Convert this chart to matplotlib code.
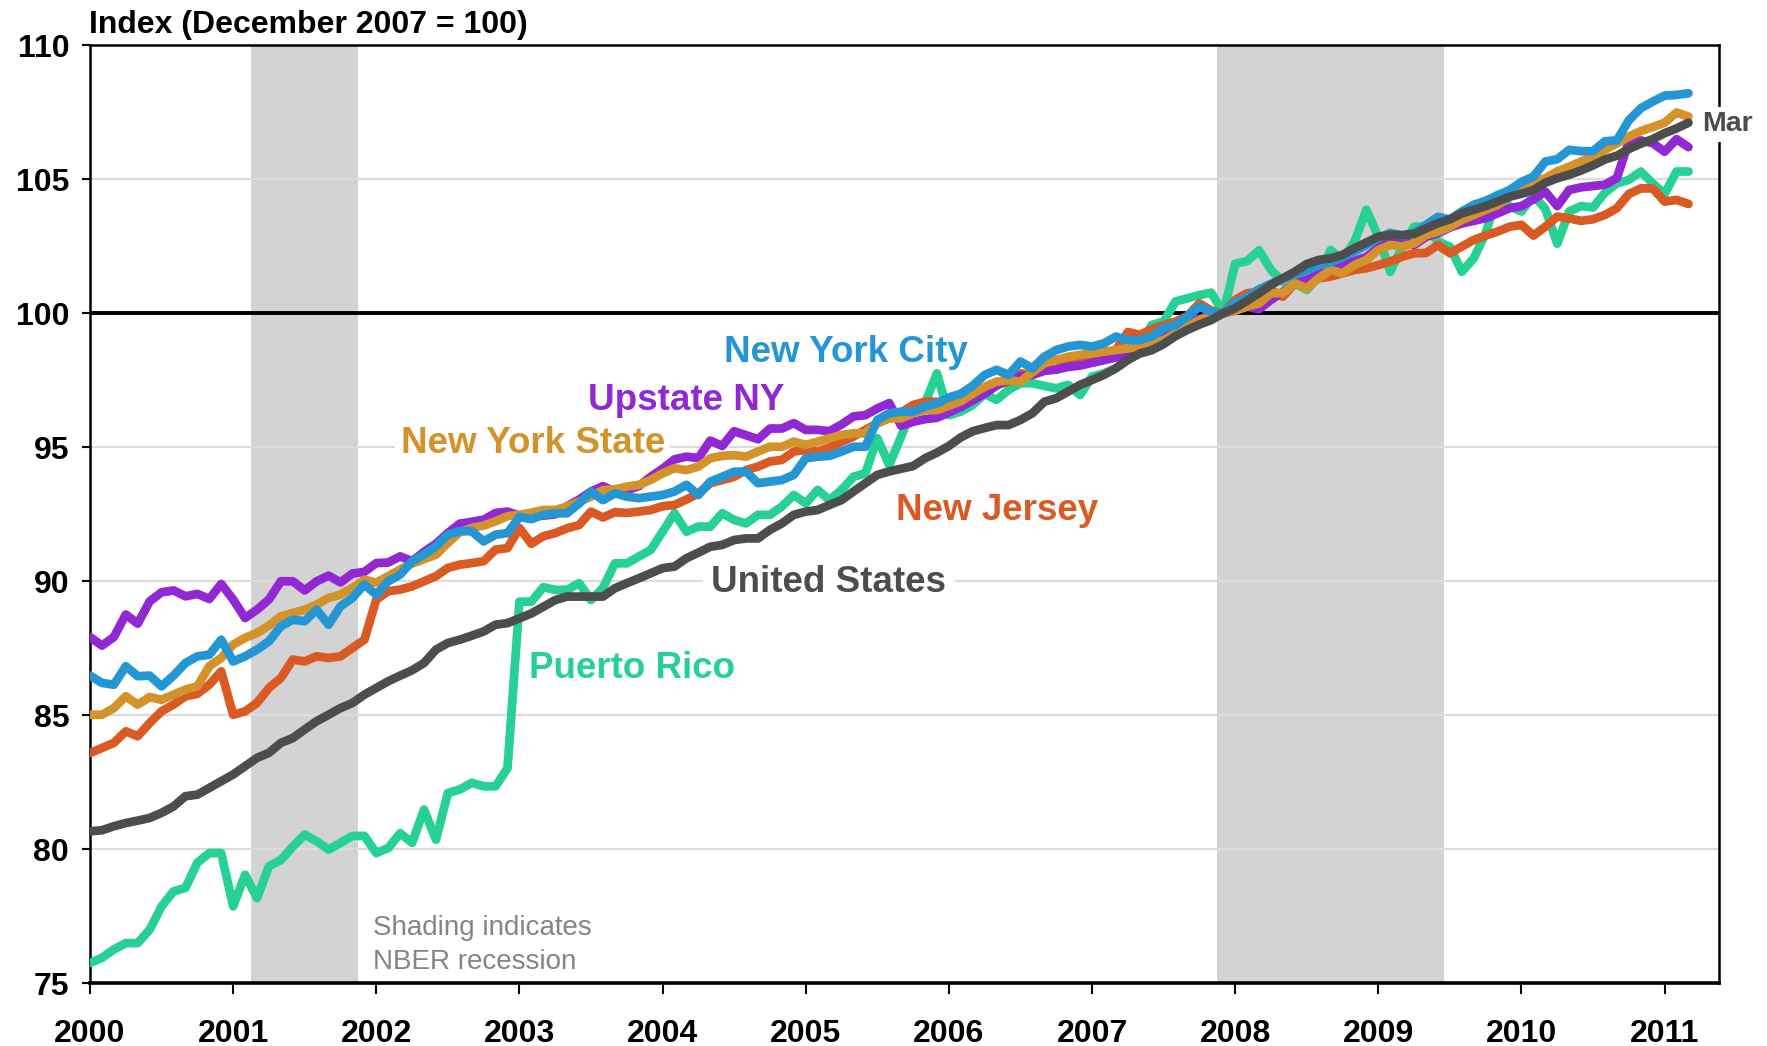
import numpy as np
import matplotlib
matplotlib.use("Agg")
import matplotlib.pyplot as plt
from matplotlib import font_manager

# ---------------- data (monthly, Jan 2000 .. Mar 2011) ----------------
start_year = 2000

united_states = [
    80.67, 80.71, 80.86, 80.98, 81.07, 81.17, 81.36, 81.60, 81.98, 82.04, 82.29, 82.54,
    82.79, 83.10, 83.41, 83.60, 83.97, 84.15, 84.47, 84.78, 85.02, 85.27, 85.46, 85.77,
    86.02, 86.27, 86.48, 86.68, 86.95, 87.45, 87.70, 87.82, 87.97, 88.13, 88.38, 88.44,
    88.62, 88.80, 89.05, 89.30, 89.43, 89.43, 89.43, 89.43, 89.74, 89.93, 90.11, 90.30,
    90.49, 90.55, 90.86, 91.07, 91.29, 91.36, 91.54, 91.60, 91.60, 91.92, 92.16, 92.48,
    92.60, 92.66, 92.85, 93.03, 93.35, 93.66, 93.97, 94.10, 94.20, 94.30, 94.59, 94.80,
    95.05, 95.37, 95.60, 95.72, 95.83, 95.83, 96.02, 96.27, 96.70, 96.83, 97.08, 97.33,
    97.51, 97.70, 97.95, 98.26, 98.50, 98.62, 98.85, 99.15, 99.38, 99.58, 99.75, 100.00,
    100.19, 100.47, 100.75, 101.06, 101.31, 101.55, 101.84, 101.99, 102.05, 102.18, 102.43, 102.64,
    102.86, 102.92, 102.92, 102.96, 103.17, 103.36, 103.51, 103.73, 103.86, 104.00, 104.17, 104.35,
    104.46, 104.60, 104.87, 105.04, 105.17, 105.33, 105.52, 105.74, 105.88, 106.13, 106.33, 106.50,
    106.72, 106.90, 107.11,
]

puerto_rico = [
    75.76, 75.95, 76.26, 76.50, 76.50, 77.00, 77.87, 78.43, 78.56, 79.50, 79.86, 79.86,
    77.87, 79.05, 78.18, 79.37, 79.60, 80.10, 80.55, 80.30, 79.99, 80.24, 80.50, 80.50,
    79.86, 80.05, 80.60, 80.24, 81.48, 80.36, 82.10, 82.23, 82.48, 82.35, 82.35, 83.03,
    89.24, 89.24, 89.78, 89.68, 89.68, 89.93, 89.30, 89.75, 90.67, 90.67, 90.92, 91.17,
    91.85, 92.54, 91.85, 92.04, 92.04, 92.54, 92.29, 92.16, 92.48, 92.48, 92.79, 93.22,
    92.91, 93.41, 93.03, 93.41, 93.90, 94.03, 95.34, 94.34, 95.40, 96.52, 96.64, 97.76,
    96.20, 96.33, 96.58, 96.99, 96.77, 97.14, 97.39, 97.39, 97.29, 97.20, 97.33, 96.95,
    97.64, 97.76, 97.95, 98.26, 98.76, 99.56, 99.69, 100.44, 100.56, 100.68, 100.77, 100.00,
    101.85, 101.95, 102.35, 101.62, 101.18, 101.12, 100.87, 101.37, 102.36, 101.99, 102.67, 103.86,
    102.86, 101.55, 102.49, 103.23, 103.23, 102.67, 102.49, 101.55, 102.05, 102.99, 104.42, 104.00,
    103.80, 104.40, 103.90, 102.60, 103.80, 104.00, 103.95, 104.50, 104.85, 104.98, 105.29, 104.85,
    104.45, 105.29, 105.29,
]

new_york_city = [
    86.48, 86.21, 86.14, 86.83, 86.46, 86.48, 86.08, 86.48, 86.95, 87.20, 87.26, 87.82,
    87.01, 87.20, 87.45, 87.76, 88.32, 88.57, 88.51, 88.94, 88.38, 89.07, 89.38, 89.88,
    89.50, 90.00, 90.25, 90.75, 91.00, 91.31, 91.74, 91.87, 91.87, 91.49, 91.74, 91.80,
    92.40, 92.32, 92.48, 92.54, 92.54, 92.90, 93.35, 93.03, 93.28, 93.16, 93.10, 93.16,
    93.22, 93.35, 93.60, 93.22, 93.72, 93.90, 94.09, 94.09, 93.66, 93.72, 93.78, 93.97,
    94.59, 94.65, 94.68, 94.84, 95.02, 95.02, 96.02, 96.27, 96.33, 96.33, 96.52, 96.64,
    96.86, 97.00, 97.30, 97.70, 97.89, 97.70, 98.20, 97.95, 98.38, 98.63, 98.76, 98.82,
    98.76, 98.88, 99.13, 99.00, 99.00, 99.13, 99.44, 99.56, 99.88, 100.25, 100.06, 100.00,
    100.40, 100.60, 100.90, 101.10, 101.30, 101.45, 101.60, 101.80, 101.90, 102.10, 102.30, 102.55,
    102.80, 103.00, 102.90, 103.00, 103.30, 103.60, 103.50, 103.80, 104.05, 104.20, 104.40, 104.60,
    104.90, 105.10, 105.66, 105.75, 106.10, 106.05, 106.05, 106.42, 106.45, 107.20, 107.65, 107.90,
    108.12, 108.15, 108.21,
]

new_york_state = [
    85.02, 85.02, 85.27, 85.71, 85.40, 85.68, 85.58, 85.77, 85.96, 86.08, 86.83, 87.14,
    87.64, 87.89, 88.07, 88.35, 88.69, 88.82, 88.94, 89.13, 89.38, 89.50, 89.75, 90.06,
    89.95, 90.19, 90.44, 90.66, 90.83, 90.99, 91.43, 91.83, 91.99, 92.08, 92.24, 92.43,
    92.48, 92.56, 92.66, 92.66, 92.79, 92.97, 93.16, 93.40, 93.43, 93.53, 93.60, 93.78,
    94.03, 94.22, 94.15, 94.28, 94.59, 94.68, 94.71, 94.65, 94.84, 95.02, 95.02, 95.21,
    95.09, 95.21, 95.34, 95.46, 95.52, 95.52, 95.90, 96.08, 96.08, 96.27, 96.39, 96.39,
    96.55, 96.72, 97.00, 97.26, 97.45, 97.51, 97.45, 97.80, 98.13, 98.26, 98.38, 98.45,
    98.51, 98.57, 98.63, 98.69, 98.76, 98.88, 99.00, 99.25, 99.50, 99.75, 99.88, 100.00,
    100.10, 100.25, 100.37, 100.75, 100.75, 101.12, 100.93, 101.31, 101.62, 101.49, 101.80, 101.99,
    102.36, 102.55, 102.49, 102.61, 102.92, 103.05, 103.23, 103.48, 103.67, 103.86, 104.04, 104.35,
    104.60, 104.91, 105.04, 105.29, 105.47, 105.66, 105.85, 106.10, 106.34, 106.59, 106.80, 106.95,
    107.11, 107.49, 107.34,
]

upstate_ny = [
    87.92, 87.60, 87.92, 88.76, 88.42, 89.25, 89.59, 89.66, 89.44, 89.53, 89.34, 89.90,
    89.32, 88.63, 88.94, 89.32, 90.00, 90.00, 89.66, 90.00, 90.21, 89.96, 90.29, 90.35,
    90.68, 90.70, 90.93, 90.75, 91.10, 91.40, 91.80, 92.15, 92.22, 92.30, 92.55, 92.60,
    92.45, 92.50, 92.45, 92.50, 92.80, 93.05, 93.35, 93.55, 93.35, 93.40, 93.55, 93.90,
    94.20, 94.55, 94.65, 94.60, 95.25, 95.05, 95.60, 95.45, 95.30, 95.70, 95.70, 95.90,
    95.65, 95.65, 95.60, 95.85, 96.15, 96.20, 96.45, 96.65, 95.80, 95.95, 96.05, 96.10,
    96.30, 96.50, 96.75, 97.00, 97.30, 97.55, 97.65, 97.70, 97.85, 97.90, 98.00, 98.05,
    98.15, 98.25, 98.35, 98.50, 98.70, 98.90, 99.15, 99.40, 99.65, 99.80, 99.90, 100.00,
    100.10, 100.25, 100.15, 100.50, 100.80, 101.10, 101.25, 101.45, 101.60, 101.80, 101.95, 102.10,
    102.45, 102.65, 102.70, 102.55, 102.85, 102.99, 103.20, 103.35, 103.45, 103.55, 103.73, 103.92,
    104.00, 104.25, 104.54, 104.00, 104.60, 104.70, 104.75, 104.80, 105.05, 106.40, 106.45, 106.35,
    106.03, 106.50, 106.20,
]

new_jersey = [
    83.59, 83.78, 83.97, 84.40, 84.22, 84.71, 85.15, 85.40, 85.71, 85.80, 86.14, 86.64,
    85.02, 85.15, 85.46, 86.02, 86.39, 87.08, 87.01, 87.20, 87.14, 87.20, 87.51, 87.82,
    89.32, 89.63, 89.69, 89.81, 90.00, 90.19, 90.50, 90.62, 90.68, 90.75, 91.18, 91.24,
    91.99, 91.40, 91.68, 91.80, 91.98, 92.10, 92.60, 92.38, 92.58, 92.55, 92.60, 92.66,
    92.80, 92.85, 93.05, 93.28, 93.66, 93.78, 93.90, 94.15, 94.28, 94.47, 94.53, 94.84,
    94.90, 94.84, 95.00, 95.20, 95.40, 95.65, 95.90, 96.10, 96.30, 96.58, 96.70, 96.70,
    96.55, 96.68, 96.90, 97.14, 97.33, 97.45, 97.76, 97.70, 97.95, 97.89, 98.26, 98.13,
    98.32, 98.45, 98.63, 99.30, 99.20, 99.40, 99.56, 99.69, 99.90, 100.37, 100.10, 100.00,
    100.50, 100.75, 100.80, 100.87, 100.62, 101.12, 101.24, 101.31, 101.37, 101.49, 101.62, 101.68,
    101.80, 101.93, 102.11, 102.24, 102.25, 102.55, 102.24, 102.49, 102.74, 102.90, 103.05, 103.23,
    103.30, 102.90, 103.23, 103.61, 103.54, 103.45, 103.51, 103.67, 103.92, 104.45, 104.66, 104.66,
    104.17, 104.23, 104.08,
]

series_names = ["Puerto Rico", "New Jersey", "Upstate NY", "New York State", "New York City", "United States"]
series_values = [puerto_rico, new_jersey, upstate_ny, new_york_state, new_york_city, united_states]
series_colors = ["#27D193", "#DA5A24", "#9227D4", "#D4922B", "#2596D4", "#4D4D4D"]

# recessions: (year, month) of peak and trough
recession_starts = [(2001, 3), (2007, 12)]
recession_ends = [(2001, 11), (2009, 6)]

y_ticks = [75, 80, 85, 90, 95, 100, 105, 110]
x_ticks = list(range(2000, 2012))

# ---------------- style ----------------
avail = {f.name for f in font_manager.fontManager.ttflist}
base_font = "Liberation Sans" if "Liberation Sans" in avail else "DejaVu Sans"
plt.rcParams["font.family"] = [base_font, "DejaVu Sans"]

W, H = 1767, 1046
fig = plt.figure(figsize=(W / 100, H / 100), dpi=100)
ax_l, ax_r, ax_t, ax_b = 90, 1719, 45.3, 983.3
ax = fig.add_axes([ax_l / W, 1 - ax_b / H, (ax_r - ax_l) / W, (ax_b - ax_t) / H])

# recession shading
for (sy, sm), (ey, em) in zip(recession_starts, recession_ends):
    x0 = sy + (sm - 1 - 0.5) / 12
    x1 = ey + (em - 1 + 0.5) / 12
    ax.axvspan(x0, x1, color="#D3D3D3", lw=0, zorder=0.2)

# grid
for yv in y_ticks:
    if yv not in (75, 100, 110):
        ax.axhline(yv, color="#DCDCDC", lw=1.6, zorder=0.5)
ax.axhline(100, color="black", lw=2.8, zorder=1.5)

# series
for i, (name, vals, col) in enumerate(zip(series_names, series_values, series_colors)):
    vals = np.asarray(vals, dtype=float)
    x = start_year + np.arange(len(vals)) / 12.0
    ax.plot(x, vals, color=col, lw=6.3, solid_joinstyle="round",
            solid_capstyle="round", zorder=3 + i)

ax.set_xlim(2000, 2011.38)
ax.set_ylim(75, 110)

ax.set_yticks(y_ticks)
ax.set_yticklabels([str(v) for v in y_ticks], fontsize=23, fontweight="bold")
ax.set_xticks(x_ticks)
ax.set_xticklabels([str(v) for v in x_ticks], fontsize=23, fontweight="bold")
ax.tick_params(axis="y", direction="out", length=6, width=1.5, pad=9)
ax.tick_params(axis="x", direction="out", length=8, width=1.5, pad=18)

for side in ["left", "right", "top"]:
    ax.spines[side].set_linewidth(1.8)
    ax.spines[side].set_color("black")
ax.spines["bottom"].set_linewidth(2.6)

# series labels
lab_kw = dict(fontsize=26.5, fontweight="bold", va="center", ha="left")
ax.text(2004.43, 98.54, "New York City", color="#2596D4", zorder=20, **lab_kw)
ax.text(2003.48, 96.73, "Upstate NY", color="#9227D4", zorder=20, **lab_kw)
ax.text(2002.17, 95.13, "New York State", color="#D4922B", zorder=2.6,
        bbox=dict(facecolor="white", edgecolor="none", pad=4), **lab_kw)
ax.text(2005.63, 92.65, "New Jersey", color="#DA5A24", zorder=20, **lab_kw)
ax.text(2004.34, 89.95, "United States", color="#4D4D4D", zorder=2.6,
        bbox=dict(facecolor="white", edgecolor="none", pad=6), **lab_kw)
ax.text(2003.07, 86.75, "Puerto Rico", color="#27D193", zorder=20, **lab_kw)
ax.text(2011.26, 107.05, "Mar", color="#4D4D4D", fontsize=20.5, fontweight="bold",
        va="center", ha="left", zorder=20,
        bbox=dict(facecolor="white", edgecolor="none", pad=3))

ax.text(2001.98, 77.06, "Shading indicates", color="#858585", fontsize=20,
        va="center", ha="left", zorder=20)
ax.text(2001.98, 75.8, "NBER recession", color="#858585", fontsize=20,
        va="center", ha="left", zorder=20)

fig.text(89 / W, 1 - 24.5 / H, "Index (December 2007 = 100)", fontsize=23,
         fontweight="bold", va="center", ha="left")

fig.savefig("out.png", dpi=100)
